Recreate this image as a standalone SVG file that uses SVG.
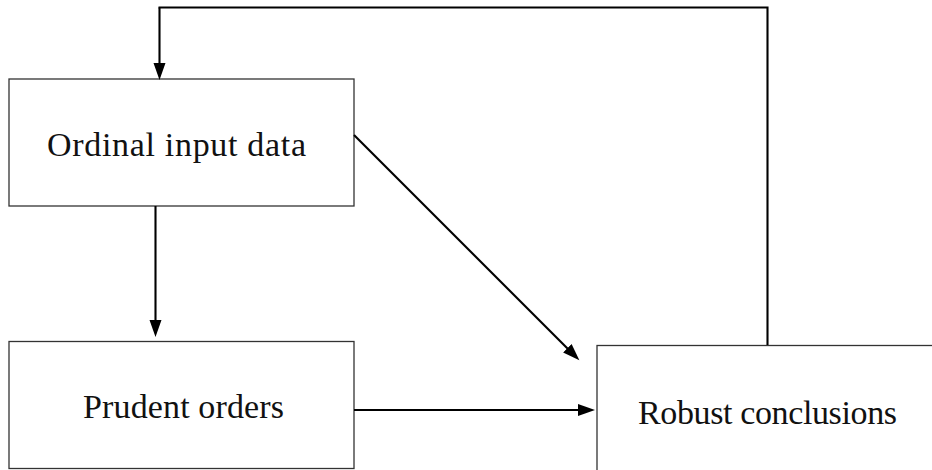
<svg xmlns="http://www.w3.org/2000/svg" width="932" height="470" viewBox="0 0 932 470">
<style>
.box{fill:#fff;stroke:#333;stroke-width:1.3}
.lbl{font-family:'Liberation Serif','DejaVu Serif',serif;font-size:34px;fill:#111;text-anchor:middle}
.con{fill:none;stroke:#000;stroke-width:2.1}
</style>
<defs>
<marker id="ah" markerUnits="userSpaceOnUse" markerWidth="18" markerHeight="13" refX="8" refY="6" orient="auto" viewBox="0 0 18 12">
<path d="M0,0 L17,6 L0,12 Z" fill="#000"/>
</marker>
</defs>
<g id="node-ordinal">
<rect class="box" x="9" y="79" width="345" height="127"/>
<text class="lbl" x="176.5" y="156" textLength="259" lengthAdjust="spacing">Ordinal input data</text>
</g>
<g id="node-prudent">
<rect class="box" x="9" y="341.5" width="345" height="127"/>
<text class="lbl" x="183.5" y="418" textLength="201" lengthAdjust="spacing">Prudent orders</text>
</g>
<g id="node-robust">
<rect class="box" x="597" y="345.5" width="360" height="140"/>
<text class="lbl" x="767.5" y="424" textLength="259" lengthAdjust="spacing">Robust conclusions</text>
</g>
<g id="connectors">
<polyline class="con" points="767.5,345 767.5,7.5 158.5,7.5"/>
<line class="con" x1="159.5" y1="7.5" x2="159.5" y2="71" marker-end="url(#ah)"/>
<line class="con" x1="155.5" y1="206" x2="155.5" y2="328" marker-end="url(#ah)"/>
<line class="con" x1="354" y1="410" x2="586" y2="410" marker-end="url(#ah)"/>
<line class="con" x1="354" y1="135" x2="573" y2="354" marker-end="url(#ah)"/>
</g>
</svg>
